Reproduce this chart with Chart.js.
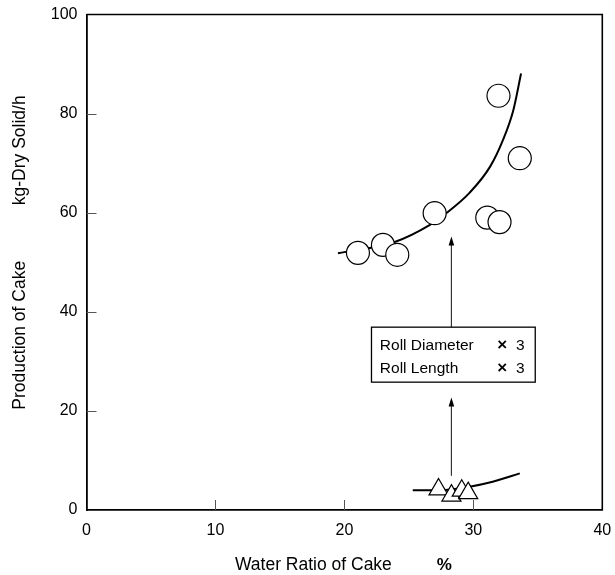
<!DOCTYPE html>
<html>
<head>
<meta charset="utf-8">
<script src="https://cdn.jsdelivr.net/npm/chart.js@4/dist/chart.umd.min.js"></script>
<style>
  html, body { margin: 0; padding: 0; background: #fff; }
  #wrap { width: 615px; height: 575px; }
</style>
</head>
<body>
<div id="wrap"><canvas id="myChart"></canvas></div>
<script>
// measured points, upper group (circles)
const circleX = [21.05, 22.99, 24.1, 27.0, 31.08, 32.03, 31.95, 33.6]
const circleY = [51.9, 53.5, 51.5, 59.9, 59.0, 58.1, 83.6, 71.0]

// lower group (triangles)
const triX = [27.3, 28.3, 29.1, 29.6]
const triY = [4.15, 2.9, 3.9, 3.4]

// hand drawn trend curves
const upperCurveX = [19.5, 23.9, 26.6, 27.9, 29.7, 31.3, 32.3, 33.1, 33.7]
const upperCurveY = [51.8, 54.1, 57.5, 59.9, 64.0, 69.3, 74.7, 80.7, 88.1]
const lowerCurveX = [25.3, 27.4, 29.7, 31.5, 33.6]
const lowerCurveY = [4.0, 4.0, 4.7, 5.7, 7.4]

const xTicks = [0, 10, 20, 30, 40]
const yTicks = [0, 20, 40, 60, 80, 100]

// annotation: box with text, two arrows (data units)
const boxLines = ['Roll Diameter', 'Roll Length']
const boxFactor = ['×', '3']
const arrowX = 28.3
const upperArrow = [36.9, 55.2]
const lowerArrow = [6.9, 22.7]

const FONT = '"Liberation Sans", Arial, Helvetica, sans-serif'

const pts = (xs, ys) => xs.map((x, i) => ({ x, y: ys[i] }))

const canvas = document.getElementById('myChart')

// stop the scales from pushing the plot in for edge labels
function fixPad(s, size) {
    if (s.isHorizontal()) s.height = size
    else s.width = size
    s.paddingLeft = 0
    s.paddingRight = 0
    s.paddingTop = 0
    s.paddingBottom = 0
}

const extras = {
    id: 'extras',
    beforeDatasetsDraw(chart) {
        const ctx = chart.ctx
        const xs = chart.scales.x
        const ys = chart.scales.y
        const a = chart.chartArea
        ctx.save()
        // frame top/right
        ctx.strokeStyle = '#000'
        ctx.lineWidth = 1.6
        ctx.beginPath()
        ctx.moveTo(a.left, a.top)
        ctx.lineTo(a.right, a.top)
        ctx.lineTo(a.right, a.bottom)
        ctx.stroke()
        // inward ticks
        ctx.strokeStyle = '#555'
        ctx.lineWidth = 1
        ctx.beginPath()
        xTicks.forEach(v => {
            const px = Math.round(xs.getPixelForValue(v)) + 0.5
            if (v === 0 || v === 40) return
            ctx.moveTo(px, a.bottom)
            ctx.lineTo(px, a.bottom - 10)
        })
        yTicks.forEach(v => {
            const py = Math.round(ys.getPixelForValue(v)) + 0.5
            if (v === 0 || v === 100) return
            ctx.moveTo(a.left, py)
            ctx.lineTo(a.left + 10, py)
        })
        ctx.stroke()

        // arrows
        const ax = xs.getPixelForValue(arrowX)
        const arrow = (from, to) => {
            const y0 = ys.getPixelForValue(from)
            const y1 = ys.getPixelForValue(to)
            ctx.strokeStyle = '#333'
            ctx.lineWidth = 1.2
            ctx.beginPath()
            ctx.moveTo(ax, y0)
            ctx.lineTo(ax, y1 + 6)
            ctx.stroke()
            ctx.fillStyle = '#000'
            ctx.beginPath()
            ctx.moveTo(ax, y1)
            ctx.lineTo(ax - 2.8, y1 + 9)
            ctx.lineTo(ax + 2.8, y1 + 9)
            ctx.closePath()
            ctx.fill()
        }
        arrow(upperArrow[0], upperArrow[1])
        arrow(lowerArrow[0], lowerArrow[1])

        // box
        const bl = xs.getPixelForValue(22.1), br = xs.getPixelForValue(34.8)
        const bt = ys.getPixelForValue(36.9), bb = ys.getPixelForValue(25.8)
        ctx.strokeStyle = '#000'
        ctx.lineWidth = 1.3
        ctx.strokeRect(bl, bt, br - bl, bb - bt)
        ctx.fillStyle = '#000'
        ctx.textBaseline = 'alphabetic'
        ctx.textAlign = 'left'
        const baseY = [32.3, 27.6]
        boxLines.forEach((t, i) => {
            const py = ys.getPixelForValue(baseY[i])
            ctx.font = '15.5px ' + FONT
            ctx.fillText(t, xs.getPixelForValue(22.75), py)
            ctx.fillText(boxFactor[1], xs.getPixelForValue(33.3), py)
            ctx.font = 'bold 17px ' + FONT
            ctx.fillText(boxFactor[0], xs.getPixelForValue(31.85), py)
        })

        // axis titles
        const midX = (a.left + a.right) / 2
        const midY = (a.top + a.bottom) / 2
        ctx.font = '17.5px ' + FONT
        ctx.textAlign = 'center'
        ctx.textBaseline = 'middle'
        ctx.fillText('Water Ratio of Cake', midX - 31, 565)
        ctx.font = 'bold 17px ' + FONT
        ctx.fillText('%', midX + 100, 565)
        ctx.font = '17.5px ' + FONT
        ctx.translate(20, midY)
        ctx.rotate(-Math.PI / 2)
        ctx.fillText('Production of Cake', -73, 0)
        ctx.fillText('kg-Dry Solid/h', 112, 0)
        ctx.restore()
    }
}

const config = {
    type: 'scatter',
    data: {
        datasets: [
            {
                label: 'circles',
                data: pts(circleX, circleY),
                pointStyle: 'circle',
                pointRadius: 11.5,
                backgroundColor: '#fff',
                borderColor: '#000',
                borderWidth: 1.2
            },
            {
                label: 'triangles',
                data: pts(triX, triY),
                pointStyle: 'triangle',
                pointRadius: 11,
                backgroundColor: '#fff',
                borderColor: '#000',
                borderWidth: 1.2
            },
            {
                type: 'line',
                label: 'upper curve',
                data: pts(upperCurveX, upperCurveY),
                borderColor: '#000',
                borderWidth: 2,
                pointRadius: 0,
                cubicInterpolationMode: 'monotone',
                fill: false
            },
            {
                type: 'line',
                label: 'lower curve',
                data: pts(lowerCurveX, lowerCurveY),
                borderColor: '#000',
                borderWidth: 2,
                pointRadius: 0,
                cubicInterpolationMode: 'monotone',
                fill: false
            }
        ]
    },
    options: {
        responsive: true,
        maintainAspectRatio: false,
        animation: false,
        events: [],
        layout: {
            padding: { top: 14.5, right: 12, left: 0, bottom: 0 }
        },
        plugins: {
            legend: { display: false },
            tooltip: { enabled: false }
        },
        scales: {
            x: {
                type: 'linear',
                min: 0,
                max: 40,
                afterFit: s => fixPad(s, 65),
                grid: { display: false, drawTicks: false },
                border: { display: true, color: '#000', width: 1.8 },
                ticks: {
                    stepSize: 10,
                    padding: 11,
                    color: '#000',
                    font: { family: FONT, size: 16 }
                }
            },
            y: {
                min: 0,
                max: 100,
                afterFit: s => fixPad(s, 86.5),
                grid: { display: false, drawTicks: false },
                border: { display: true, color: '#000', width: 1.8 },
                ticks: {
                    stepSize: 20,
                    padding: 9,
                    color: '#000',
                    font: { family: FONT, size: 16 }
                }
            }
        }
    },
    plugins: [extras]
}

new Chart(canvas, config)
</script>
</body>
</html>
